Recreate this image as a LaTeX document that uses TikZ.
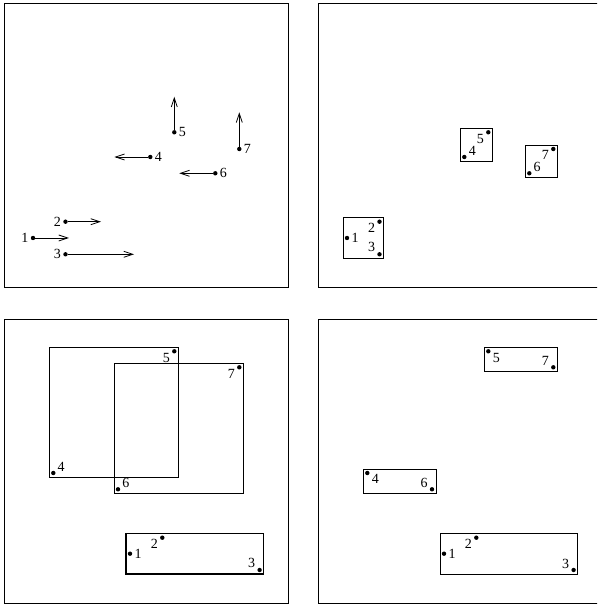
\documentclass[tikz,border=0pt]{standalone}
\usepackage{fontspec}
\setmainfont{Liberation Serif}
\usetikzlibrary{positioning}
\usetikzlibrary{arrows.meta}
\usetikzlibrary{fit}

\tikzset{
  dot/.style={circle, fill, inner sep=0pt, minimum size=4.4pt},
  lbl/.style={font=\fontsize{14}{16}\selectfont, inner sep=0.5pt},
  vel/.style={-{Straight Barb[length=9pt,width=6pt]}, line width=0.8pt},
  panel/.style={draw, line width=0.8pt},
  bbox/.style={draw, line width=0.8pt, inner sep=4pt},
}

\begin{document}
\begin{tikzpicture}[x=1pt, y=1pt, label distance=1.5pt]
    \useasboundingbox (0,0) rectangle (597,604);
    \clip (0,0) rectangle (597,604);

    % points with their velocities
    \begin{scope}[shift={(4,317)}]
        \draw[panel] (0,0) rectangle (284,284);
        \foreach \i/\x/\y/\u/\w/\a in {1/29/49/36/0/180, 2/61.5/65.3/35.5/0/180, 3/61.5/32.7/68.5/0/180,
                                      4/146.3/130/-36/0/0, 5/170.3/154.7/0/35.6/0,
                                      6/211.3/113.7/-36/0/0, 7/235.3/138/0/36.7/0} {
            \node[dot, label={[lbl]\a:\i}] (a\i) at (\x,\y) {};
            \coordinate (ta\i) at (\x+\u,\y+\w);
            \draw[vel] (a\i) -- (ta\i);
        }
    \end{scope}

    % boxes at the start
    \begin{scope}[shift={(318,317)}]
        \draw[panel] (0,0) rectangle (284,284);
        \foreach \i/\x/\y/\a in {1/29/49/0, 2/61.5/65.3/195, 3/61.5/32.7/157, 4/146.3/130/15,
                                 5/170.3/154.7/195, 6/211.3/113.7/18, 7/235.3/138/195} {
            \node[dot, label={[lbl]\a:\i}] (b\i) at (\x,\y) {};
        }
        \node[bbox, fit=(b1.center)(b2.center)(b3.center)] (gb123) {};
        \node[bbox, fit=(b4.center)(b5.center)] (gb45) {};
        \node[bbox, fit=(b6.center)(b7.center)] (gb67) {};
    \end{scope}

    % same boxes later on
    \begin{scope}[shift={(4,1)}]
        \draw[panel] (0,0) rectangle (284,284);
        \foreach \i/\x/\y/\a in {1/126/49.3/0, 2/158.3/65.3/193, 3/255.6/33/160, 4/49.3/130/18,
                                 5/170.3/251.7/195, 6/114/113.7/20, 7/235.3/235.7/194} {
            \node[dot, label={[lbl]\a:\i}] (c\i) at (\x,\y) {};
        }
        \node[bbox, line width=1.3pt, fit=(c1.center)(c2.center)(c3.center)] (gc123) {};
        \node[bbox, fit=(c4.center)(c5.center)] (gc45) {};
        \node[bbox, fit=(c6.center)(c7.center)] (gc67) {};
    \end{scope}

    % regrouped boxes
    \begin{scope}[shift={(318,1)}]
        \draw[panel] (0,0) rectangle (284,284);
        \foreach \i/\x/\y/\a in {1/126/49.3/0, 2/158.3/65.3/194, 3/255.6/33/163, 4/49.3/130/-15,
                                 5/170.3/251.7/-15, 6/114/113.7/160, 7/235.3/235.7/163} {
            \node[dot, label={[lbl]\a:\i}] (d\i) at (\x,\y) {};
        }
        \node[bbox, fit=(d1.center)(d2.center)(d3.center)] (gd123) {};
        \node[bbox, fit=(d4.center)(d6.center)] (gd46) {};
        \node[bbox, fit=(d5.center)(d7.center)] (gd57) {};
    \end{scope}
\end{tikzpicture}
\end{document}
